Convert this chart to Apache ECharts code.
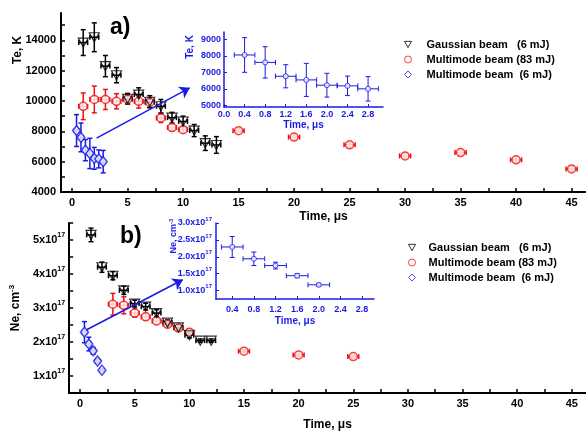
<!DOCTYPE html>
<html>
<head>
<meta charset="utf-8">
<script src="https://cdn.jsdelivr.net/npm/echarts@6/dist/echarts.min.js"></script>
<style>
  html, body { margin: 0; padding: 0; background: #fff; }
  #chart { width: 586px; height: 432px; }
</style>
</head>
<body>
<div id="chart"></div>
<script>
  // ---- panel a) electron temperature, K ----
  var gaussTimeA = [1, 2, 3, 4, 5, 6, 7, 8, 9, 10, 11, 12, 13];
  var gaussTeA = [13850, 14200, 12300, 11700, 10150, 10420, 9950, 9650, 8900, 8650, 8050, 7220, 7100];
  var gaussTeErrA = [850, 950, 700, 500, 350, 450, 400, 450, 350, 350, 400, 480, 550];

  var multi83TimeA = [1, 2, 3, 4, 5, 6, 7, 8, 9, 10, 15, 20, 25, 30, 35, 40, 45];
  var multi83TeA = [9650, 10100, 10100, 9980, 10120, 9980, 9900, 8880, 8250, 8110, 8040, 7620, 7110, 6380, 6600, 6120, 5520];
  var multi83TeErrA = [880, 880, 660, 500, 300, 450, 300, 300, 220, 200, 150, 150, 150, 150, 150, 150, 150];

  var multi6TimeA = [0.4, 0.8, 1.2, 1.6, 2.0, 2.4, 2.8];
  var multi6TeA = [8050, 7600, 6760, 6540, 6220, 6180, 6000];
  var multi6TeErrA = [1050, 950, 700, 1000, 720, 590, 740];

  // ---- panel b) electron density, x10^17 cm^-3 ----
  var gaussTimeB = [1, 2, 3, 4, 5, 6, 7, 8, 9, 10, 11, 12];
  var gaussNeB = [5.15, 4.2, 3.95, 3.52, 3.13, 3.04, 2.85, 2.57, 2.43, 2.2, 2.04, 2.04];
  var gaussNeErrB = [0.2, 0.15, 0.12, 0.12, 0.1, 0.1, 0.1, 0.08, 0.08, 0.08, 0.05, 0.05];

  var multi83TimeB = [3, 4, 5, 6, 7, 8, 9, 10, 15, 20, 25];
  var multi83NeB = [3.11, 3.08, 2.85, 2.74, 2.62, 2.52, 2.41, 2.29, 1.73, 1.62, 1.57];
  var multi83NeErrB = [0.32, 0.25, 0.12, 0.1, 0.1, 0.08, 0.08, 0.08, 0.05, 0.05, 0.05];

  var multi6TimeB = [0.4, 0.8, 1.2, 1.6, 2.0];
  var multi6NeB = [2.29, 1.94, 1.74, 1.44, 1.17];
  var multi6NeErrB = [0.31, 0.2, 0.1, 0.06, 0.04];

  // time uncertainty (half width), us
  var timeErrMain = 0.4;
  var timeErrFar = 0.5;
  var timeErrMulti6 = 0.2;

  // tick labels
  var timeTicks = [0, 5, 10, 15, 20, 25, 30, 35, 40, 45];
  var timeMinorTicks = [0, 2.5, 5, 7.5, 10, 12.5, 15, 17.5, 20, 22.5, 25, 27.5, 30, 32.5, 35, 37.5, 40, 42.5, 45];
  var teTicks = [4000, 6000, 8000, 10000, 12000, 14000];
  var teMinorTicks = [4000, 5000, 6000, 7000, 8000, 9000, 10000, 11000, 12000, 13000, 14000, 15000];
  var neTicks = [1, 2, 3, 4, 5];
  var neMinorTicks = [1, 1.5, 2, 2.5, 3, 3.5, 4, 4.5, 5, 5.5];
  var insetTimeTicksA = [0.0, 0.4, 0.8, 1.2, 1.6, 2.0, 2.4, 2.8];
  var insetTimeTicksB = [0.4, 0.8, 1.2, 1.6, 2.0, 2.4, 2.8];
  var insetTeTicks = [5000, 6000, 7000, 8000, 9000];
  var insetNeTicks = [1.0, 1.5, 2.0, 2.5, 3.0];

  // arrows from the early points to the insets
  var arrowA = [[2.2, 7550], [10.6, 10870]];
  var arrowB = [[0.6, 2.36], [9.4, 3.83]];

  var names = ['Gaussian beam   (6 mJ)', 'Multimode beam (83 mJ)', 'Multimode beam  (6 mJ)'];

  var FONT = 'Liberation Sans';
  var BLACK = '#000000';
  var RED = '#f01010';
  var BLUE = '#1a1ae6';

  function errData(t, v, e, te) {
    return t.map(function (x, i) {
      var xe = Array.isArray(te) ? te[i] : te;
      return [x, v[i], xe, e[i]];
    });
  }
  function pts(t, v) {
    return t.map(function (x, i) { return [x, v[i]]; });
  }

  function errorSeries(idx, data, color, cap, width) {
    return {
      type: 'custom',
      xAxisIndex: idx,
      yAxisIndex: idx,
      data: data,
      silent: true,
      z: 1,
      encode: {x: 0, y: 1},
      renderItem: function (params, api) {
        var x = api.value(0), y = api.value(1), ex = api.value(2), ey = api.value(3);
        var t = api.coord([x, y + ey]), b = api.coord([x, y - ey]);
        var l = api.coord([x - ex, y]), r = api.coord([x + ex, y]);
        var st = {stroke: color, lineWidth: width};
        function seg(x1, y1, x2, y2) {
          return {type: 'line', shape: {x1: x1, y1: y1, x2: x2, y2: y2}, style: st};
        }
        return {
          type: 'group',
          children: [
            seg(t[0], t[1], b[0], b[1]),
            seg(t[0] - cap, t[1], t[0] + cap, t[1]),
            seg(b[0] - cap, b[1], b[0] + cap, b[1]),
            seg(l[0], l[1], r[0], r[1]),
            seg(l[0], l[1] - cap, l[0], l[1] + cap),
            seg(r[0], r[1] - cap, r[0], r[1] + cap)
          ]
        };
      }
    };
  }

  // red data: the near points have 0.4 us, the far ones 0.5 us
  function redTimeErr(t) {
    return t.map(function (x) { return x > 12 ? timeErrFar : timeErrMain; });
  }

  var triPath = 'path://M0,0L10,0L5,9Z';

  var mainLabel = {fontFamily: FONT, fontWeight: 'bold', fontSize: 11, color: BLACK};
  var insetLabel = {fontFamily: FONT, fontWeight: 'bold', fontSize: 9, color: BLUE};
  var plain = function (v) { return String(v); };

  var legendItems = [
    {name: names[0], icon: triPath, itemStyle: {color: '#fff', borderColor: BLACK, borderWidth: 1}},
    {name: names[1], icon: 'circle', itemStyle: {color: '#fff', borderColor: RED, borderWidth: 1}},
    {name: names[2], icon: 'diamond', itemStyle: {color: '#fff', borderColor: BLUE, borderWidth: 1}}
  ];

  function mainX(grid, gap) {
    return {
      type: 'value', gridIndex: grid, min: -1, max: 46.3,
      name: 'Time, μs', nameLocation: 'middle', nameGap: gap,
      nameTextStyle: {fontFamily: FONT, fontWeight: 'bold', fontSize: 12, color: BLACK},
      axisLine: {onZero: false, lineStyle: {color: BLACK, width: 2}},
      axisTick: {inside: true, length: 4, customValues: timeMinorTicks, lineStyle: {color: BLACK, width: 1.5}},
      axisLabel: Object.assign({margin: 5, customValues: timeTicks, formatter: plain}, mainLabel),
      splitLine: {show: false}
    };
  }

  var chart = echarts.init(document.getElementById('chart'));
  var option = {
    animation: false,
    backgroundColor: '#fff',
    grid: [
      {left: 61, top: 13, width: 525, height: 179},
      {left: 224, top: 32, width: 159, height: 75},
      {left: 61, top: 223, width: 525, height: 177},
      {left: 216, top: 223, width: 158, height: 76}
    ],
    xAxis: [
      mainX(0, 19),
      {
        type: 'value', gridIndex: 1, min: 0, max: 3.09,
        name: 'Time, μs', nameLocation: 'middle', nameGap: 13,
        nameTextStyle: {fontFamily: FONT, fontWeight: 'bold', fontSize: 10, color: BLUE},
        axisLine: {onZero: false, lineStyle: {color: BLUE, width: 1.5}},
        axisTick: {inside: true, length: 3, customValues: insetTimeTicksA, lineStyle: {color: BLUE}},
        axisLabel: Object.assign({margin: 3, customValues: insetTimeTicksA, formatter: function (v) { return v.toFixed(1); }}, insetLabel),
        splitLine: {show: false}
      },
      mainX(2, 26),
      {
        type: 'value', gridIndex: 3, min: 0.1, max: 3.02,
        name: 'Time, μs', nameLocation: 'middle', nameGap: 17,
        nameTextStyle: {fontFamily: FONT, fontWeight: 'bold', fontSize: 10, color: BLUE},
        axisLine: {onZero: false, lineStyle: {color: BLUE, width: 1.5}},
        axisTick: {inside: true, length: 3, customValues: insetTimeTicksB, lineStyle: {color: BLUE}},
        axisLabel: Object.assign({margin: 6, customValues: insetTimeTicksB, formatter: function (v) { return v.toFixed(1); }}, insetLabel),
        splitLine: {show: false}
      }
    ],
    yAxis: [
      {
        type: 'value', gridIndex: 0, min: 4000, max: 15800,
        axisLine: {show: true, onZero: false, lineStyle: {color: BLACK, width: 2}},
        axisTick: {show: true, inside: true, length: 4, customValues: teMinorTicks, lineStyle: {color: BLACK, width: 1.5}},
        axisLabel: Object.assign({margin: 5, customValues: teTicks, formatter: plain}, mainLabel),
        splitLine: {show: false}
      },
      {
        type: 'value', gridIndex: 1, min: 4900, max: 9440,
        axisLine: {show: true, onZero: false, lineStyle: {color: BLUE, width: 1.5}},
        axisTick: {show: true, inside: true, length: 3, customValues: insetTeTicks, lineStyle: {color: BLUE}},
        axisLabel: Object.assign({margin: 3, customValues: insetTeTicks, formatter: plain}, insetLabel),
        splitLine: {show: false}
      },
      {
        type: 'value', gridIndex: 2, min: 0.5, max: 5.5,
        name: '{a|Ne, cm}{s|-3}', nameLocation: 'middle', nameGap: 42,
        nameTextStyle: {
          rich: {
            a: {fontFamily: FONT, fontWeight: 'bold', fontSize: 12, color: BLACK, lineHeight: 16},
            s: {fontFamily: FONT, fontWeight: 'bold', fontSize: 8, color: BLACK, verticalAlign: 'top', lineHeight: 16}
          }
        },
        axisLine: {show: true, onZero: false, lineStyle: {color: BLACK, width: 2}},
        axisTick: {show: true, inside: true, length: 4, customValues: neMinorTicks, lineStyle: {color: BLACK, width: 1.5}},
        axisLabel: {
          margin: 4, customValues: neTicks,
          formatter: function (v) { return '{b|' + v + 'x10}{s|17}'; },
          rich: {
            b: {fontFamily: FONT, fontWeight: 'bold', fontSize: 11, color: BLACK, lineHeight: 16},
            s: {fontFamily: FONT, fontWeight: 'bold', fontSize: 7, color: BLACK, verticalAlign: 'top', lineHeight: 16}
          }
        },
        splitLine: {show: false}
      },
      {
        type: 'value', gridIndex: 3, min: 0.75, max: 3.0,
        axisLine: {show: true, onZero: false, lineStyle: {color: BLUE, width: 1.5}},
        axisTick: {show: true, inside: true, length: 3, customValues: insetNeTicks, lineStyle: {color: BLUE}},
        axisLabel: {
          margin: 4, customValues: insetNeTicks,
          formatter: function (v) { return '{b|' + v.toFixed(1) + 'x10}{s|17}'; },
          rich: {
            b: {fontFamily: FONT, fontWeight: 'bold', fontSize: 9, color: BLUE, lineHeight: 14},
            s: {fontFamily: FONT, fontWeight: 'bold', fontSize: 6, color: BLUE, verticalAlign: 'top', lineHeight: 14}
          }
        },
        splitLine: {show: false}
      }
    ],
    legend: [
      {
        left: 399, top: 33, orient: 'vertical', data: legendItems,
        itemWidth: 7, itemHeight: 7, itemGap: 2, selectedMode: false,
        textStyle: {fontFamily: FONT, fontWeight: 'bold', fontSize: 11, color: BLACK, lineHeight: 13, padding: [0, 0, 0, 10]}
      },
      {
        left: 403, top: 236, orient: 'vertical', data: legendItems,
        itemWidth: 7, itemHeight: 7, itemGap: 2, selectedMode: false,
        textStyle: {fontFamily: FONT, fontWeight: 'bold', fontSize: 11, color: BLACK, lineHeight: 13, padding: [0, 0, 0, 8]}
      }
    ],
    graphic: [
      {type: 'text', x: 110, y: 16, style: {text: 'a)', font: 'bold 23px ' + FONT, fill: BLACK}},
      {type: 'text', x: 120, y: 225, style: {text: 'b)', font: 'bold 23px ' + FONT, fill: BLACK}},
      {type: 'text', x: 18, y: 50, rotation: Math.PI / 2,
        style: {text: 'Te, K', font: 'bold 12px ' + FONT, fill: BLACK, align: 'center', verticalAlign: 'middle'}},
      {type: 'text', x: 190, y: 47, rotation: Math.PI / 2,
        style: {text: 'Te, K', font: 'bold 10px ' + FONT, fill: BLUE, align: 'center', verticalAlign: 'middle'}},
      {type: 'text', x: 174, y: 236, rotation: Math.PI / 2,
        style: {
          text: '{a|Ne, cm}{s|-3}', align: 'center', verticalAlign: 'middle',
          rich: {
            a: {fontFamily: FONT, fontWeight: 'bold', fontSize: 9, fill: BLUE, lineHeight: 12},
            s: {fontFamily: FONT, fontWeight: 'bold', fontSize: 6, fill: BLUE, verticalAlign: 'top', lineHeight: 12}
          }
        }}
    ],
    series: [
      // panel a
      errorSeries(0, errData(multi83TimeA, multi83TeA, multi83TeErrA, redTimeErr(multi83TimeA)), RED, 2.5, 1.5),
      errorSeries(0, errData(gaussTimeA, gaussTeA, gaussTeErrA, timeErrMain), BLACK, 2.5, 1.5),
      errorSeries(0, errData(multi6TimeA, multi6TeA, multi6TeErrA, timeErrMulti6), BLUE, 2.5, 1.5),
      {
        name: names[0], type: 'scatter', xAxisIndex: 0, yAxisIndex: 0, data: pts(gaussTimeA, gaussTeA),
        symbol: triPath, symbolSize: [10, 9], z: 3,
        itemStyle: {color: 'rgba(255,255,255,0)', borderColor: BLACK, borderWidth: 1.2}
      },
      {
        name: names[1], type: 'scatter', xAxisIndex: 0, yAxisIndex: 0, data: pts(multi83TimeA, multi83TeA),
        symbol: 'circle', symbolSize: 8,
        itemStyle: {color: '#fff', borderColor: RED, borderWidth: 1.5}
      },
      {
        name: names[2], type: 'scatter', xAxisIndex: 0, yAxisIndex: 0, data: pts(multi6TimeA, multi6TeA),
        symbol: 'diamond', symbolSize: [8, 10],
        itemStyle: {color: '#fff', borderColor: BLUE, borderWidth: 1.5},
        markLine: {
          silent: true, symbol: ['none', 'arrow'], symbolSize: 10,
          label: {show: false},
          lineStyle: {color: BLUE, width: 1.5, type: 'solid'},
          data: [[{coord: arrowA[0]}, {coord: arrowA[1]}]]
        }
      },
      // inset a
      errorSeries(1, errData(multi6TimeA, multi6TeA, multi6TeErrA, timeErrMulti6), BLUE, 2.5, 1),
      {
        name: 'inset a', type: 'scatter', xAxisIndex: 1, yAxisIndex: 1, data: pts(multi6TimeA, multi6TeA),
        symbol: 'circle', symbolSize: 5,
        itemStyle: {color: '#fff', borderColor: BLUE, borderWidth: 1}
      },
      // panel b
      errorSeries(2, errData(multi83TimeB, multi83NeB, multi83NeErrB, redTimeErr(multi83TimeB)), RED, 2.5, 1.5),
      errorSeries(2, errData(gaussTimeB, gaussNeB, gaussNeErrB, timeErrMain), BLACK, 2.5, 1.5),
      errorSeries(2, errData(multi6TimeB, multi6NeB, multi6NeErrB, timeErrMulti6), BLUE, 2.5, 1.5),
      {
        name: names[0], type: 'scatter', xAxisIndex: 2, yAxisIndex: 2, data: pts(gaussTimeB, gaussNeB),
        symbol: triPath, symbolSize: [10, 9], z: 3,
        itemStyle: {color: 'rgba(255,255,255,0)', borderColor: BLACK, borderWidth: 1.2}
      },
      {
        name: names[1], type: 'scatter', xAxisIndex: 2, yAxisIndex: 2, data: pts(multi83TimeB, multi83NeB),
        symbol: 'circle', symbolSize: 8,
        itemStyle: {color: '#fff', borderColor: RED, borderWidth: 1.5}
      },
      {
        name: names[2], type: 'scatter', xAxisIndex: 2, yAxisIndex: 2, data: pts(multi6TimeB, multi6NeB),
        symbol: 'diamond', symbolSize: [8, 10],
        itemStyle: {color: '#fff', borderColor: BLUE, borderWidth: 1.5},
        markLine: {
          silent: true, symbol: ['none', 'arrow'], symbolSize: 10,
          label: {show: false},
          lineStyle: {color: BLUE, width: 1.5, type: 'solid'},
          data: [[{coord: arrowB[0]}, {coord: arrowB[1]}]]
        }
      },
      // inset b
      errorSeries(3, errData(multi6TimeB, multi6NeB, multi6NeErrB, timeErrMulti6), BLUE, 2.5, 1),
      {
        name: 'inset b', type: 'scatter', xAxisIndex: 3, yAxisIndex: 3, data: pts(multi6TimeB, multi6NeB),
        symbol: 'circle', symbolSize: 5,
        itemStyle: {color: '#fff', borderColor: BLUE, borderWidth: 1}
      }
    ]
  };
  chart.setOption(option);
</script>
</body>
</html>
